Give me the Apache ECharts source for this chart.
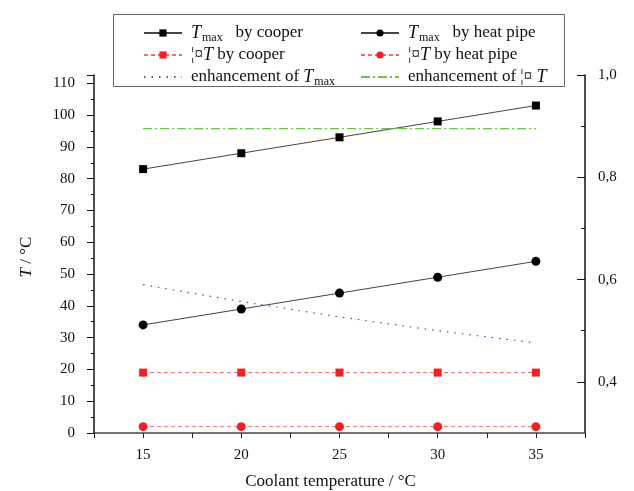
<!DOCTYPE html>
<html>
<head>
<meta charset="utf-8">
<script src="https://cdn.jsdelivr.net/npm/echarts@6/dist/echarts.min.js"></script>
<style>
html,body{margin:0;padding:0;background:#fff;}
#chart{width:634px;height:491px;}
</style>
</head>
<body>
<div id="chart"></div>
<script>
// ---- data ----
const coolantTemps = [15, 20, 25, 30, 35];
const tmaxCooper = [83, 88, 93, 98, 103];
const tmaxHeatPipe = [34, 39, 44, 49, 54];
const dTCooper = [19, 19, 19, 19, 19];
const dTHeatPipe = [2, 2, 2, 2, 2];
const enhancementTmax = [0.590, 0.557, 0.527, 0.500, 0.476];
const enhancementDT = [0.895, 0.895, 0.895, 0.895, 0.895];
const xTickLabels = [15, 20, 25, 30, 35];
const leftTickLabels = [0, 10, 20, 30, 40, 50, 60, 70, 80, 90, 100, 110];
const rightTickLabels = [0.4, 0.6, 0.8, 1.0];
const rightMinorTicks = [0.5, 0.7, 0.9];

const names = {
  s1: 'Tmax by cooper',
  s2: 'Tmax by heat pipe',
  s3: '¦¤T by cooper',
  s4: '¦¤T by heat pipe',
  s5: 'enhancement of Tmax',
  s6: 'enhancement of ¦¤T'
};
const legendText = {};
legendText[names.s1] = '{i|T}{s|max}{n|   by cooper}';
legendText[names.s2] = '{i|T}{s|max}{n|   by heat pipe}';
legendText[names.s3] = '{n|¦¤}{i|T}{n| by cooper}';
legendText[names.s4] = '{n|¦¤}{i|T}{n| by heat pipe}';
legendText[names.s5] = '{n|enhancement of }{i|T}{s|max}';
legendText[names.s6] = '{n|enhancement of ¦¤ }{i|T}';

const pairs = (ys) => coolantTemps.map((x, i) => [x, ys[i]]);
const FONT = 'Liberation Serif';

const richStyles = {
  n: {fontFamily: FONT, fontSize: 17, color: '#111', lineHeight: 22},
  i: {fontFamily: FONT, fontSize: 18, fontStyle: 'italic', color: '#111', lineHeight: 22},
  s: {fontFamily: FONT, fontSize: 12, color: '#111', lineHeight: 22, verticalAlign: 'bottom', padding: [0, 0, 0, 1]}
};

const chart = echarts.init(document.getElementById('chart'), null, {renderer: 'canvas'});

const legendCommon = {
  orient: 'vertical',
  top: 22,
  itemGap: 0,
  itemWidth: 38,
  itemHeight: 9,
  padding: 0,
  z: 10,
  formatter: (name) => legendText[name],
  textStyle: {fontFamily: FONT, fontSize: 17, color: '#111', lineHeight: 22, padding: [0, 0, 0, 4], rich: richStyles}
};

const BLUE = '#3a58b8';
const GREEN = '#6cc24a';

const option = {
  animation: false,
  backgroundColor: '#fff',
  grid: {left: 94, right: 49, top: 75, bottom: 58, containLabel: false, outerBoundsMode: 'none'},
  legend: [
    Object.assign({}, legendCommon, {left: 143, data: [names.s1, names.s3, {name: names.s5, itemStyle: {color: 'rgba(0,0,0,0)', borderWidth: 0}}]}),
    Object.assign({}, legendCommon, {left: 360, data: [names.s2, names.s4, {name: names.s6, itemStyle: {color: 'rgba(0,0,0,0)', borderWidth: 0}}]})
  ],
  graphic: [
    {
      type: 'rect', z: 5,
      shape: {x: 113.5, y: 14.5, width: 451, height: 72},
      style: {fill: '#fff', stroke: '#666', lineWidth: 1}
    },
    {
      type: 'text', z: 5,
      x: 27, y: 257, rotation: Math.PI / 2,
      style: {
        text: '{i|T}{n| / °C}',
        align: 'center', verticalAlign: 'middle',
        rich: {
          i: {fontFamily: FONT, fontSize: 17, fontStyle: 'italic', fill: '#111'},
          n: {fontFamily: FONT, fontSize: 17, fill: '#111'}
        }
      }
    }
  ],
  xAxis: {
    type: 'value',
    min: 12.5, max: 37.5, interval: 2.5,
    name: 'Coolant temperature / °C',
    nameLocation: 'middle',
    nameGap: 40,
    nameTextStyle: {fontFamily: FONT, fontSize: 17, color: '#111', padding: [0, 18, 0, 0]},
    axisLine: {show: true, lineStyle: {color: '#444', width: 1.5}},
    axisTick: {show: true, inside: false, length: 5, lineStyle: {color: '#222', width: 1}},
    axisLabel: {
      margin: 15,
      fontFamily: FONT, fontSize: 15, color: '#111',
      formatter: (v) => xTickLabels.indexOf(v) >= 0 ? String(v) : ''
    },
    splitLine: {show: false}
  },
  yAxis: [
    {
      type: 'value', position: 'left',
      min: 0, max: 112.6, interval: 10,
      axisLine: {show: true, onZero: false, lineStyle: {color: '#111', width: 1.5}},
      axisTick: {show: true, inside: false, length: 7, lineStyle: {color: '#111'}},
      minorTick: {show: true, splitNumber: 2, length: 3, lineStyle: {color: '#111'}},
      axisLabel: {
        margin: 19, fontFamily: FONT, fontSize: 15, color: '#111',
        formatter: (v) => leftTickLabels.indexOf(v) >= 0 ? String(v) : ''
      },
      splitLine: {show: false}
    },
    {
      type: 'value', position: 'right', offset: 0,
      min: 0.3, max: 1.0,
      axisLine: {show: true, onZero: false, lineStyle: {color: '#111', width: 1.5}},
      axisTick: {show: true, inside: true, length: 8, customValues: rightTickLabels, lineStyle: {color: '#111'}},
      axisLabel: {
        margin: 13, fontFamily: FONT, fontSize: 15, color: '#111',
        customValues: rightTickLabels,
        formatter: (v) => v.toFixed(1).replace('.', ',')
      },
      splitLine: {show: false}
    },
    {
      type: 'value', position: 'right', offset: 0,
      min: 0.3, max: 1.0,
      axisLine: {show: false, onZero: false},
      axisTick: {show: true, inside: true, length: 4, customValues: rightMinorTicks, lineStyle: {color: '#111'}},
      axisLabel: {show: false, customValues: rightMinorTicks},
      splitLine: {show: false}
    }
  ],
  series: [
    {
      name: names.s1, type: 'line', yAxisIndex: 0, data: pairs(tmaxCooper),
      symbol: 'rect', symbolSize: 8,
      itemStyle: {color: '#000'},
      lineStyle: {color: '#444', width: 1}
    },
    {
      name: names.s2, type: 'line', yAxisIndex: 0, data: pairs(tmaxHeatPipe),
      symbol: 'circle', symbolSize: 9,
      itemStyle: {color: '#000'},
      lineStyle: {color: '#444', width: 1}
    },
    {
      name: names.s3, type: 'line', yAxisIndex: 0, data: pairs(dTCooper),
      symbol: 'rect', symbolSize: 8,
      itemStyle: {color: '#ee2226'},
      lineStyle: {color: '#f26a6a', width: 1, type: [4, 3]}
    },
    {
      name: names.s4, type: 'line', yAxisIndex: 0, data: pairs(dTHeatPipe),
      symbol: 'circle', symbolSize: 9,
      itemStyle: {color: '#ee2226'},
      lineStyle: {color: '#f26a6a', width: 1, type: [4, 3]}
    },
    {
      name: names.s5, type: 'line', yAxisIndex: 1, data: pairs(enhancementTmax),
      symbol: 'none', color: BLUE,
      itemStyle: {color: BLUE},
      lineStyle: {color: BLUE, width: 1.2, type: [1.5, 6]}
    },
    {
      name: names.s6, type: 'line', yAxisIndex: 1, data: pairs(enhancementDT),
      symbol: 'none', color: GREEN,
      itemStyle: {color: GREEN},
      lineStyle: {color: GREEN, width: 1.3, type: [9, 3, 2, 3]}
    }
  ]
};
chart.setOption(option);
</script>
</body>
</html>
